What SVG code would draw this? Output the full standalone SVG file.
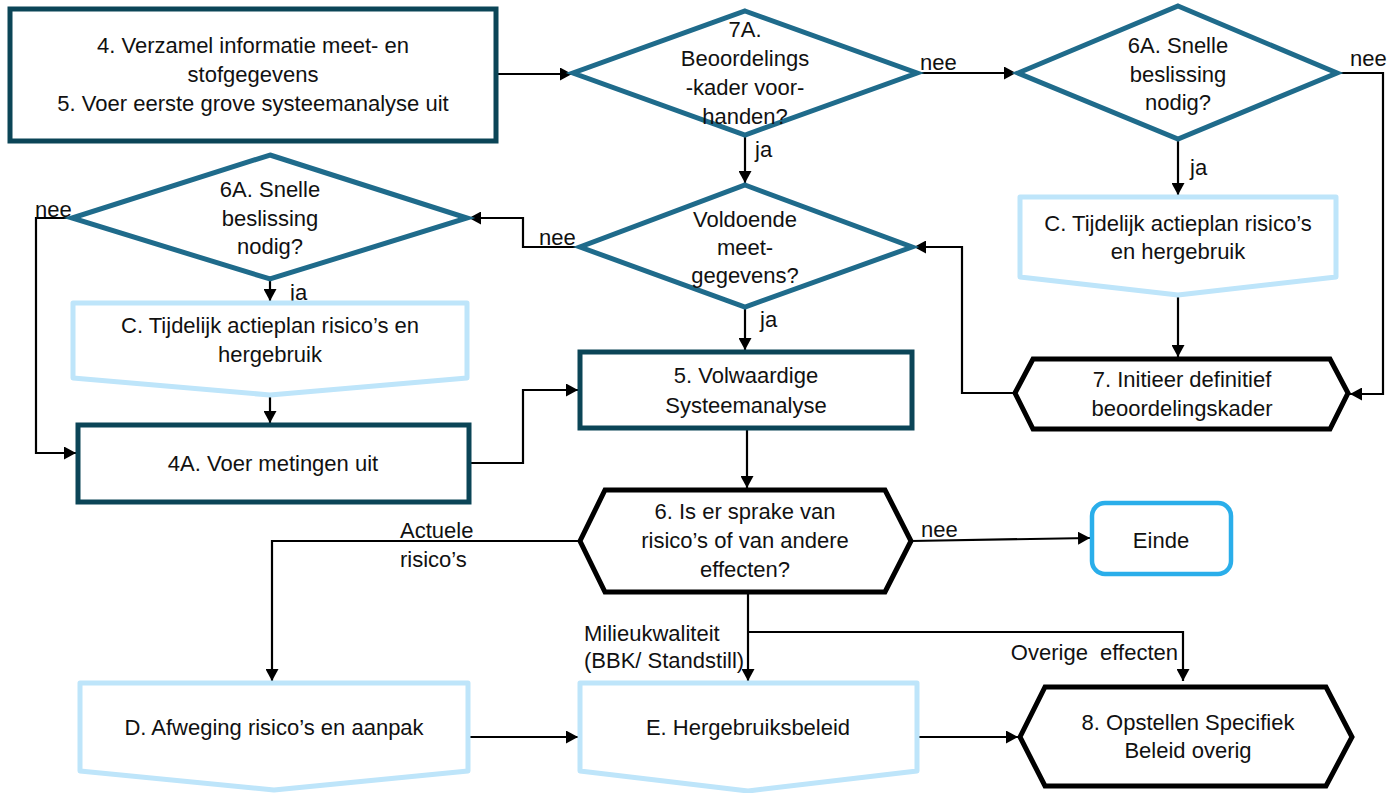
<svg xmlns="http://www.w3.org/2000/svg" width="1391" height="793" viewBox="0 0 1391 793">
<defs>
<marker id="ah" markerUnits="userSpaceOnUse" markerWidth="13" markerHeight="13" refX="12" refY="6.5" orient="auto">
<path d="M0,0 L12,6.5 L0,13 Z" fill="#000"/>
</marker>
<style>
text{font-family:"Liberation Sans",Arial,sans-serif;font-size:22px;fill:#111;}
.c{text-anchor:middle;}
.box{fill:#fff;stroke:#0B4557;stroke-width:5;}
.dia{fill:#fff;stroke:#1F6B8B;stroke-width:5;stroke-linejoin:miter;}
.lb{fill:#fff;stroke:#BEE5FA;stroke-width:5;stroke-linejoin:round;}
.hex{fill:#fff;stroke:#000;stroke-width:5;stroke-linejoin:miter;}
.end{fill:#fff;stroke:#2AAEEA;stroke-width:4.5;}
.ln{fill:none;stroke:#000;stroke-width:2.2;}
.ar{marker-end:url(#ah);}
</style>
</defs>
<rect width="1391" height="793" fill="#fff"/>

<g id="connectors">
<path class="ln ar" d="M496,74 H572"/>
<path class="ln ar" d="M917,73 H1016"/>
<path class="ln ar" d="M1337,73 H1383 V394 H1350"/>
<path class="ln ar" d="M1178,139 V195"/>
<path class="ln ar" d="M1178,295 V357"/>
<path class="ln ar" d="M1015,393 H962 V247 H914"/>
<path class="ln ar" d="M745,135 V183"/>
<path class="ln ar" d="M580,247 H523 V218 H469"/>
<path class="ln ar" d="M72,218 H36 V453 H76"/>
<path class="ln ar" d="M270,279 V301"/>
<path class="ln ar" d="M270,395 V423"/>
<path class="ln ar" d="M469,463 H523 V390 H578"/>
<path class="ln ar" d="M745,307 V350"/>
<path class="ln ar" d="M747,428 V488"/>
<path class="ln ar" d="M911,541 L1090,538"/>
<path class="ln ar" d="M580,541 H272 V681"/>
<path class="ln ar" d="M748,592 V681"/>
<path class="ln ar" d="M748,632 H1183 V681"/>
<path class="ln ar" d="M468,737 H578"/>
<path class="ln ar" d="M917,737 H1018"/>
<text x="920" y="70">nee</text>
<text x="1350" y="66">nee</text>
<text x="1190" y="175">ja</text>
<text x="755" y="157">ja</text>
<text x="539" y="245">nee</text>
<text x="35" y="217">nee</text>
<text x="290" y="300">ja</text>
<text x="760" y="327">ja</text>
<text x="921" y="537">nee</text>
<text x="400" y="538">Actuele</text>
<text x="400" y="567">risico’s</text>
<text x="584" y="641">Milieukwaliteit</text>
<text x="584" y="668">(BBK/ Standstill)</text>
<text x="1178" y="660" style="text-anchor:end;white-space:pre">Overige  effecten</text>
</g>

<g id="n4">
<rect class="box" x="10" y="9" width="486" height="132"/>
<text class="c" x="253" y="53">4. Verzamel informatie meet- en</text>
<text class="c" x="253" y="82">stofgegevens</text>
<text class="c" x="253" y="111">5. Voer eerste grove systeemanalyse uit</text>
</g>

<g id="n7a">
<polygon class="dia" points="745,11 917,73 745,135 573,73"/>
<text class="c" x="745" y="37">7A.</text>
<text class="c" x="745" y="66">Beoordelings</text>
<text class="c" x="745" y="95">-kader voor-</text>
<text class="c" x="745" y="124">handen?</text>
</g>

<g id="n6a-right">
<polygon class="dia" points="1178,6 1337,73 1178,139 1018,73"/>
<text class="c" x="1178" y="53">6A. Snelle</text>
<text class="c" x="1178" y="82">beslissing</text>
<text class="c" x="1178" y="110">nodig?</text>
</g>

<g id="nC-right">
<path class="lb" d="M1020,197 H1336 V277 L1178,295 L1020,277 Z"/>
<text class="c" x="1178" y="231">C. Tijdelijk actieplan risico’s</text>
<text class="c" x="1178" y="259">en hergebruik</text>
</g>

<g id="n7">
<path class="hex" d="M1015,393 L1033,359 H1330 L1348,393 L1330,429 H1033 Z"/>
<text class="c" x="1182" y="387">7. Initieer definitief</text>
<text class="c" x="1182" y="416">beoordelingskader</text>
</g>

<g id="nVoldoende">
<polygon class="dia" points="745,185 912,247 745,307 580,247"/>
<text class="c" x="745" y="227">Voldoende</text>
<text class="c" x="745" y="255">meet-</text>
<text class="c" x="745" y="283">gegevens?</text>
</g>

<g id="n6a-left">
<polygon class="dia" points="270,155 467,218 270,279 72,218"/>
<text class="c" x="270" y="197">6A. Snelle</text>
<text class="c" x="270" y="226">beslissing</text>
<text class="c" x="270" y="254">nodig?</text>
</g>

<g id="nC-left">
<path class="lb" d="M73,303 H467 V378 L270,395 L73,378 Z"/>
<text class="c" x="270" y="333">C. Tijdelijk actieplan risico’s en</text>
<text class="c" x="270" y="362">hergebruik</text>
</g>

<g id="n4a">
<rect class="box" x="78" y="425" width="391" height="77"/>
<text class="c" x="273" y="471">4A. Voer metingen uit</text>
</g>

<g id="n5">
<rect class="box" x="580" y="352" width="332" height="76"/>
<text class="c" x="746" y="383">5. Volwaardige</text>
<text class="c" x="746" y="413">Systeemanalyse</text>
</g>

<g id="n6">
<path class="hex" d="M580,541 L605,490 H885 L911,541 L885,592 H605 Z"/>
<text class="c" x="745" y="519">6. Is er sprake van</text>
<text class="c" x="745" y="548">risico’s of van andere</text>
<text class="c" x="745" y="577">effecten?</text>
</g>

<g id="nEinde">
<rect class="end" x="1092" y="503" width="139" height="71" rx="13"/>
<text class="c" x="1161" y="548">Einde</text>
</g>

<g id="nD">
<path class="lb" d="M80,683 H468 V771 L274,790 L80,771 Z"/>
<text class="c" x="274" y="735">D. Afweging risico’s en aanpak</text>
</g>

<g id="nE">
<path class="lb" d="M580,683 H917 V771 L748,791 L580,771 Z"/>
<text class="c" x="748" y="735">E. Hergebruiksbeleid</text>
</g>

<g id="n8">
<path class="hex" d="M1020,737 L1045,687 H1326 L1352,737 L1326,786 H1045 Z"/>
<text class="c" x="1188" y="730">8. Opstellen Specifiek</text>
<text class="c" x="1188" y="758">Beleid overig</text>
</g>
</svg>
